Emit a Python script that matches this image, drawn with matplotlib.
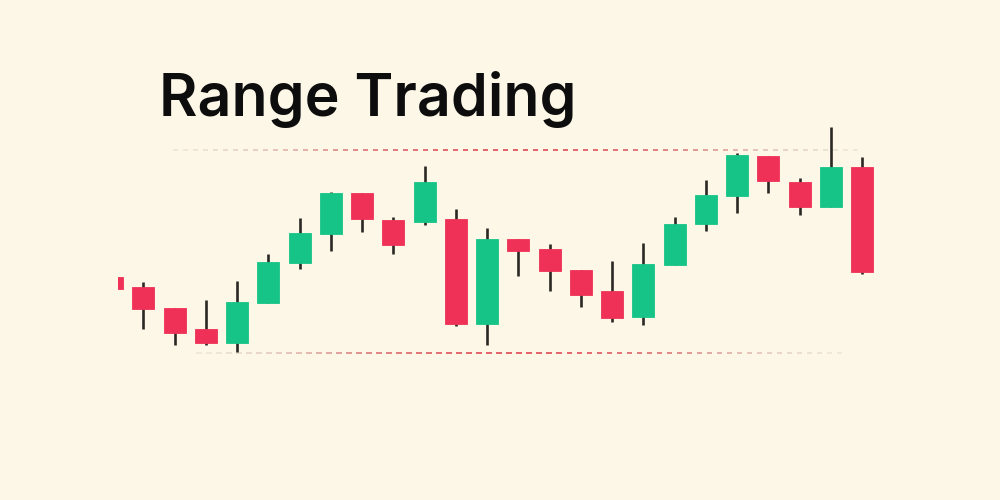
import numpy as np
import matplotlib
matplotlib.use("Agg")
from matplotlib import pyplot as plt
from matplotlib.collections import LineCollection
from matplotlib.colors import to_rgb

BG = "#fdf7e7"
UP = "#16c487"
DOWN = "#ef3157"
WICK = "#2b2925"

# candle data (index, OHLC)
opens = [123, 113, 92, 71, 57, 97, 137, 166, 207, 180, 178, 181, 76,
         161, 151, 130, 109, 83, 135, 176, 204, 244, 218, 193, 233]
highs = [123, 118, 92, 100, 119, 146, 182, 208, 207, 183, 234, 191, 172,
         161, 156, 130, 139, 157, 183, 220, 247, 244, 222, 273, 243]
lows = [111, 71, 55, 55, 48, 97, 131, 149, 168, 146, 175, 74, 55,
        124, 109, 93, 78, 75, 135, 169, 187, 207, 185, 193, 126]
closes = [111, 91, 67, 57, 98, 138, 167, 207, 181, 155, 218, 76, 161,
          149, 129, 105, 82, 136, 176, 205, 245, 219, 193, 233, 128]

range_high = 250
range_low = 47

fig = plt.figure(figsize=(10, 5), dpi=100, facecolor=BG)
ax = fig.add_axes([0.118, 0, 0.882, 1])
ax.set_facecolor(BG)
ax.set_xlim(0.19, 28.41)
ax.set_ylim(-100, 400)
ax.axis("off")

x = np.arange(len(opens))
o = np.array(opens)
c = np.array(closes)
h = np.array(highs)
l = np.array(lows)
colors = [UP if cc >= oo else DOWN for oo, cc in zip(o, c)]

# wicks
ax.vlines(x, l, h, color=WICK, linewidth=1.9, zorder=2)
# bodies
ax.bar(x, np.abs(c - o), bottom=np.minimum(o, c), width=0.70,
       color=colors, edgecolor=colors, linewidth=0.6, zorder=3)


def range_line(y, x0, x1):
    # dashed line, red in the middle, fading to grey at the ends
    period = 0.32
    dash = 0.17
    starts = np.arange(x0, x1, period)
    segs = [[(s, y), (s + dash, y)] for s in starts]
    t = (starts - x0) / (x1 - x0)
    w = np.sin(np.pi * t) ** 1.5
    grey = np.array(to_rgb("#d6cdbd"))
    red = np.array(to_rgb("#e2555f"))
    cols = []
    for wi, ti in zip(w, t):
        rgb = grey * (1 - wi) + red * wi
        a = min(1.0, 0.35 + 2.5 * min(ti, 1 - ti))
        cols.append((*rgb, a))
    ax.add_collection(LineCollection(segs, colors=cols, linewidth=1.3, zorder=1))


range_line(range_high, 1.95, 23.8)
range_line(range_low, 2.7, 23.2)

fig.text(0.159, 1 - 116 / 500, "Range Trading", fontsize=42.5,
         family=["Inter", "DejaVu Sans"], fontweight="semibold",
         color="#0d0d0d", va="baseline", ha="left")

fig.savefig("out.png", dpi=100, facecolor=BG)
